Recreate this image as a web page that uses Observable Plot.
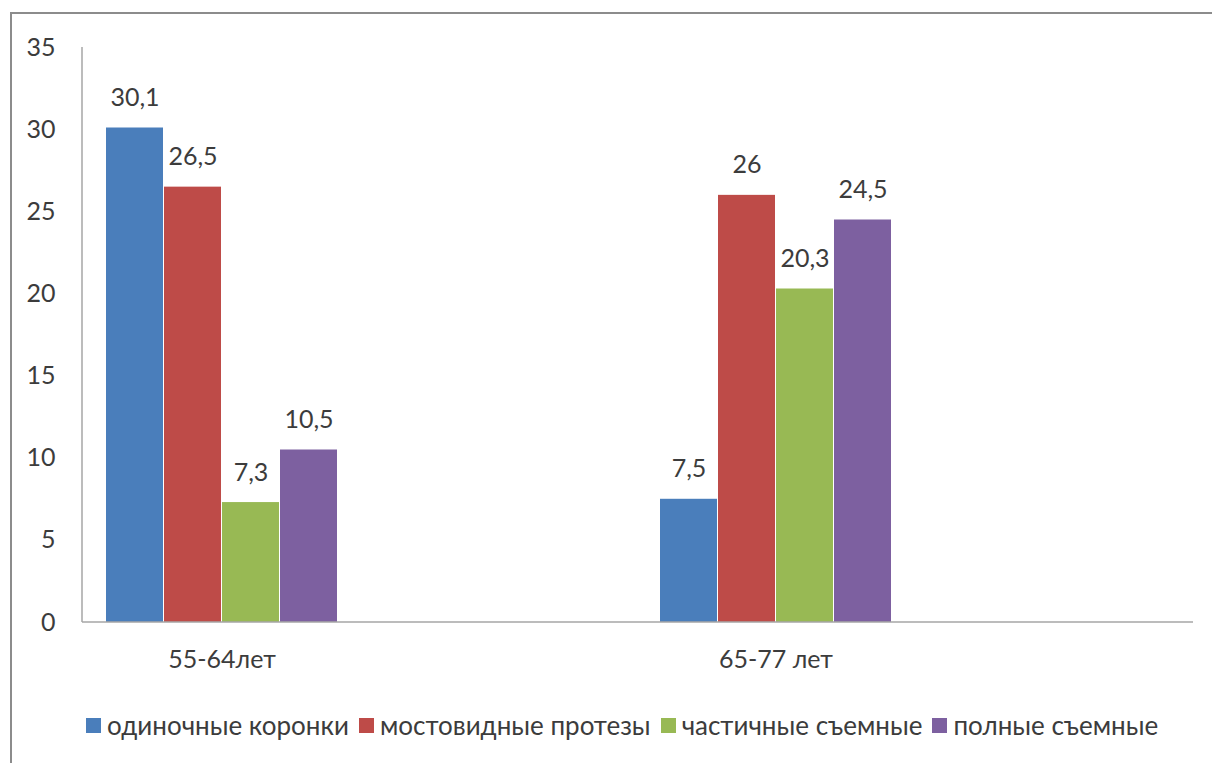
<!DOCTYPE html>
<html><head><meta charset="utf-8">
<script src="https://cdn.jsdelivr.net/npm/d3@7"></script>
<script src="https://cdn.jsdelivr.net/npm/@observablehq/plot@0.6"></script>
<style>
html,body{margin:0;padding:0;background:#fff;overflow:hidden;width:1212px;height:763px;}
#frame{position:absolute;left:10px;top:12px;width:1400px;height:900px;border-top:2px solid #8c8c8c;border-left:2px solid #8c8c8c;pointer-events:none;}
#chart{position:absolute;left:0;top:0;}
#legend{position:absolute;left:0;top:709px;width:1212px;display:flex;justify-content:flex-start;font-family:Lato,"Noto Sans",sans-serif;font-size:26px;color:#3c3c3c;padding-left:86px;box-sizing:border-box;white-space:nowrap;}
#legend .item{display:flex;align-items:center;margin-right:10px;}
#legend .sw{width:15px;height:15px;margin-right:6px;}
</style></head>
<body>
<div id="frame"></div>
<div id="chart"></div>
<div id="legend"></div>
<script>
const groups = ["55-64лет", "65-77 лет"];
const series = ["одиночные коронки", "мостовидные протезы", "частичные съемные", "полные съемные"];
const values55 = [30.1, 26.5, 7.3, 10.5];
const values65 = [7.5, 26, 20.3, 24.5];
const colors = ["#4A7EBB", "#BE4B48", "#98B954", "#7D60A0"];
const yTicks = [0, 5, 10, 15, 20, 25, 30, 35];

const data = [];
[values55, values65].forEach((vals, gi) => vals.forEach((v, si) => data.push({group: groups[gi], series: series[si], value: v})));
const fmt = v => String(v).replace(".", ",");

const useAxisMark = typeof Plot.axisY === "function";
const plot = Plot.plot({
  width: 1212, height: 690,
  marginLeft: 82, marginRight: 297, marginTop: 47, marginBottom: 68,
  style: {fontFamily: "Lato, 'Noto Sans', sans-serif", fontSize: "25px", color: "#3c3c3c", background: "transparent"},
  fx: {domain: groups, paddingInner: 0.5794, paddingOuter: 0.0415, tickSize: 0, tickPadding: 28, label: null},
  x: {domain: series, axis: null, paddingInner: 0.02, paddingOuter: 0},
  y: useAxisMark
    ? {domain: [0, 35], label: null}
    : {domain: [0, 35], ticks: yTicks, tickSize: 0, tickPadding: 50, label: null, tickFormat: d => d},
  color: {domain: series, range: colors},
  marks: [
    useAxisMark ? Plot.axisY({ticks: yTicks, tickSize: 0, tickPadding: 50, label: null, tickFormat: d => d, fontSize: 25, fill: "#3c3c3c"}) : null,
    Plot.barY(data, {fx: "group", x: "series", y: "value", fill: "series"}),
    Plot.text(data, {fx: "group", x: "series", y: "value", text: d => fmt(d.value), dy: -30, fontSize: 25, fill: "#3c3c3c"})
  ]
});
document.getElementById("chart").appendChild(plot);

// axis lines spanning the whole plot area
const ys = plot.scale("y");
const svg = d3.select(plot);
const y0 = ys.apply(0), y35 = ys.apply(35);
svg.append("line").attr("x1", 82).attr("x2", 82).attr("y1", y35).attr("y2", y0).attr("stroke", "#a6a6a6").attr("stroke-width", 1.5);
svg.append("line").attr("x1", 82).attr("x2", 1193).attr("y1", y0).attr("y2", y0).attr("stroke", "#a6a6a6").attr("stroke-width", 1.5);

const legend = document.getElementById("legend");
series.forEach((s, i) => {
  const it = document.createElement("div"); it.className = "item";
  const sw = document.createElement("div"); sw.className = "sw"; sw.style.background = colors[i];
  const t = document.createElement("span"); t.textContent = s;
  it.appendChild(sw); it.appendChild(t); legend.appendChild(it);
});
</script>
</body></html>
